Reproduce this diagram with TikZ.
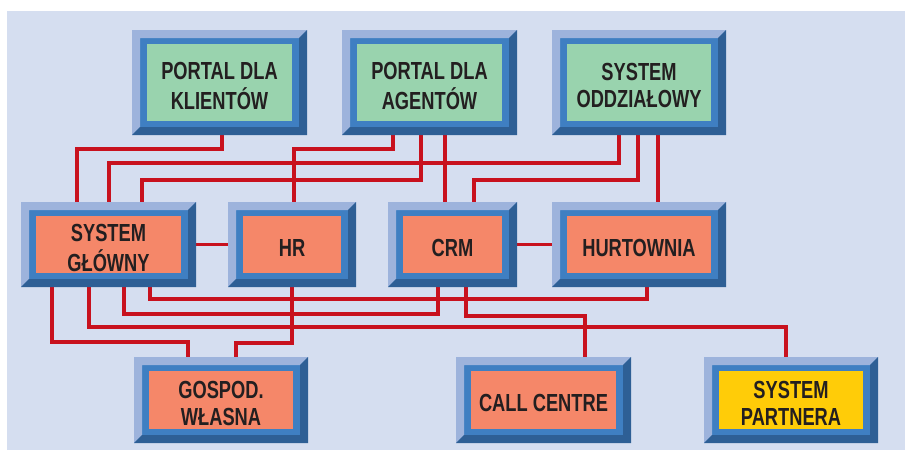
\documentclass[tikz,border=0pt]{standalone}
\usepackage{fontspec}
\setmainfont{Liberation Sans}[FakeStretch=0.74]
\definecolor{bgc}{HTML}{D5DEF0}
\definecolor{bevlight}{HTML}{9DB3DC}
\definecolor{bevmid}{HTML}{3F7FC2}
\definecolor{bevdark}{HTML}{2E5F95}
\definecolor{boxgreen}{HTML}{99D3AE}
\definecolor{boxorange}{HTML}{F58769}
\definecolor{boxyellow}{HTML}{FFCC08}
\definecolor{linered}{HTML}{C8111E}
\definecolor{txt}{HTML}{231F20}
\newcommand\boxtext[1]{\raisebox{-12.8pt}[0pt][0pt]{\begin{tabular}{@{}c@{}}#1\end{tabular}}}
\pgfdeclarelayer{bgzero}
\pgfdeclarelayer{lines}
\pgfsetlayers{bgzero,lines,main}
\tikzset{
  bevbox/.style={rectangle, inner sep=0pt, fill=bevmid, text=txt,
    font=\fontsize{24.7}{27}\selectfont\bfseries,
    path picture={
      \fill[bevlight] (path picture bounding box.north west) -- (path picture bounding box.north east)
        -- ([shift={(-8pt,-8pt)}]path picture bounding box.north east)
        -- ([shift={(8pt,-8pt)}]path picture bounding box.north west)
        -- ([shift={(8pt,8pt)}]path picture bounding box.south west)
        -- (path picture bounding box.south west) -- cycle;
      \fill[bevdark] (path picture bounding box.north east) -- (path picture bounding box.south east)
        -- (path picture bounding box.south west)
        -- ([shift={(8pt,8pt)}]path picture bounding box.south west)
        -- ([shift={(-8pt,8pt)}]path picture bounding box.south east)
        -- ([shift={(-8pt,-8pt)}]path picture bounding box.north east) -- cycle;
      \fill[#1] ([shift={(15pt,-14pt)}]path picture bounding box.north west)
        rectangle ([shift={(-15pt,14pt)}]path picture bounding box.south east);
    }},
  conn/.style={draw=linered, line width=3.8pt, line join=miter}
}
\begin{document}
\begin{tikzpicture}[x=1pt,y=-1pt]
\useasboundingbox (0,0) rectangle (905,450);
\begin{pgfonlayer}{bgzero}
\fill[bgc] (7,11) rectangle (905,450);
\end{pgfonlayer}
% top row
\node[bevbox=boxgreen, minimum width=175pt, minimum height=105pt] (klient) at (219.5,82.5) {\boxtext{PORTAL DLA\\KLIENTÓW}};
\node[bevbox=boxgreen, minimum width=175pt, minimum height=105pt] (agent) at (429.5,82.5) {\boxtext{PORTAL DLA\\AGENTÓW}};
\node[bevbox=boxgreen, minimum width=174pt, minimum height=105pt] (oddz) at (639,82.5) {\boxtext{SYSTEM\\ODDZIAŁOWY}};
% middle row
\node[bevbox=boxorange, minimum width=175pt, minimum height=85pt] (glowny) at (108.5,244.5) {\boxtext{SYSTEM\\GŁÓWNY}};
\node[bevbox=boxorange, minimum width=128pt, minimum height=85pt] (hr) at (292,244.5) {\boxtext{HR}};
\node[bevbox=boxorange, minimum width=129pt, minimum height=85pt] (crm) at (452.5,244.5) {\boxtext{CRM}};
\node[bevbox=boxorange, minimum width=174pt, minimum height=85pt] (hurt) at (639,244.5) {\boxtext{HURTOWNIA}};
% bottom row
\node[bevbox=boxorange, minimum width=174pt, minimum height=86pt] (gosp) at (221,400) {\boxtext{GOSPOD.\\WŁASNA}};
\node[bevbox=boxorange, minimum width=175pt, minimum height=86pt] (call) at (543.5,400) {\boxtext{CALL CENTRE}};
\node[bevbox=boxyellow, minimum width=174pt, minimum height=86pt] (partner) at (791,400) {\boxtext{SYSTEM\\PARTNERA}};
% connectors
\begin{pgfonlayer}{lines}
\draw[conn] (klient.south -| 222,0) -- ++(0,14) -| (glowny.north -| 77,0);
\draw[conn] (oddz.south -| 619,0) -- ++(0,28) -| (glowny.north -| 109,0);
\draw[conn] (agent.south -| 421,0) -- ++(0,45) -| (glowny.north -| 142,0);
\draw[conn] (agent.south -| 393,0) -- ++(0,14) -| (hr.north -| 294,0);
\draw[conn] (agent.south -| 445,0) -- (crm.north -| 445,0);
\draw[conn] (oddz.south -| 638,0) -- ++(0,45) -| (crm.north -| 474,0);
\draw[conn] (oddz.south -| 658,0) -- (hurt.north -| 658,0);
\draw[conn] (glowny.east) -- (hr.west);
\draw[conn] (crm.east) -- (hurt.west);
\draw[conn] (glowny.south -| 52,0) -- ++(0,55) -| (gosp.north -| 188,0);
\draw[conn] (glowny.south -| 89,0) -- ++(0,40) -| (partner.north -| 786,0);
\draw[conn] (glowny.south -| 124,0) -- ++(0,27) -| (crm.south -| 438,0);
\draw[conn] (glowny.south -| 150,0) -- ++(0,12) -| (hurt.south -| 647,0);
\draw[conn] (hr.south -| 292,0) -- ++(0,56) -| (gosp.north -| 236,0);
\draw[conn] (crm.south -| 466,0) -- ++(0,29) -| (call.north -| 585,0);
\end{pgfonlayer}
\end{tikzpicture}
\end{document}
